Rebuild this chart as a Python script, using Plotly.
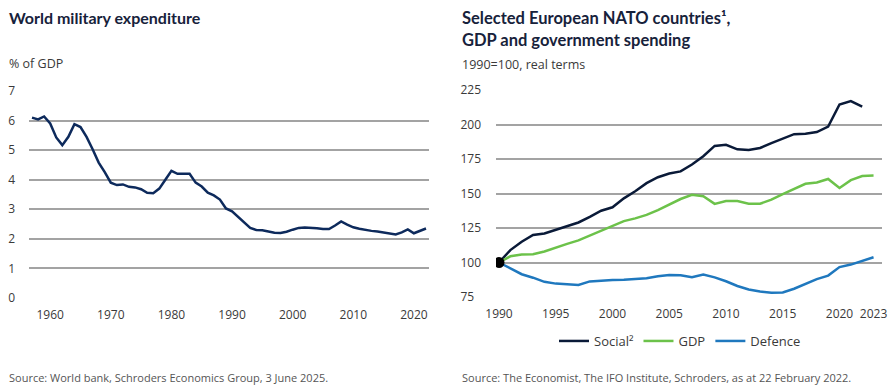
import plotly.graph_objects as go

# ---------------- data ----------------
mil_years = list(range(1957, 2023))
mil_pct = [6.10, 6.04, 6.14, 5.90, 5.43, 5.17, 5.45, 5.88, 5.78, 5.45,
           5.03, 4.58, 4.26, 3.90, 3.82, 3.84, 3.76, 3.74, 3.68, 3.56,
           3.54, 3.70, 4.00, 4.30, 4.20, 4.21, 4.20, 3.90, 3.77, 3.56,
           3.47, 3.33, 3.03, 2.93, 2.75, 2.58, 2.37, 2.30, 2.29, 2.25,
           2.21, 2.20, 2.24, 2.31, 2.37, 2.38, 2.38, 2.36, 2.33, 2.33,
           2.45, 2.59, 2.48, 2.39, 2.34, 2.30, 2.27, 2.25, 2.21, 2.17,
           2.15, 2.22, 2.32, 2.19, 2.26, 2.35]
mil_xticks = [1960, 1970, 1980, 1990, 2000, 2010, 2020]
mil_yticks = [0, 1, 2, 3, 4, 5, 6, 7]

nato_years = list(range(1990, 2024))
social = [100, 109, 115, 120, 121, 123.5, 126, 129, 133, 137.5,
          140, 146.5, 151.6, 157.5, 161.8, 164.5, 166, 171, 177, 184.5,
          185.3, 182, 181.5, 183, 186.5, 189.5, 193, 193.3, 194.5, 198.5,
          214.5, 217, 213]
gdp = [100, 104.5, 105.8, 106, 108, 111, 113.5, 116, 119.5, 123.5,
       127, 130, 132, 134.5, 138, 142, 146, 149, 148, 142.5,
       144.5, 144.5, 142.6, 142.6, 145.5, 149.5, 153.5, 157, 158, 160.5,
       154, 159.7, 162.7, 163]
defence = [100, 96, 91.5, 89, 86, 84.7, 84.3, 83.7, 86.3, 87,
           87.3, 87.5, 88, 88.6, 90, 90.9, 90.7, 89.3, 91.2, 89.2,
           86.4, 83, 80.5, 79, 78.1, 78.3, 81, 84.5, 88, 90.5,
           96.7, 98.5, 101, 103.8]
nato_xticks = [1990, 1995, 2000, 2005, 2010, 2015, 2020, 2023]
nato_yticks = [75, 100, 125, 150, 175, 200, 225]
base_year = [1990]
base_value = [100]

# ---------------- figure ----------------
W, H = 891, 387
def px(x): return x / W
def py(y): return 1 - y / H

NAVY = "#0a1a38"
LINE_L = "#0d2a5c"
GREEN = "#6cc24a"
BLUE = "#1f78be"
GRID = "#a3a3a3"
TXT = "#3a3a3a"
TITLE = "#17223b"

fig = go.Figure()
fig.add_trace(go.Scatter(x=mil_years, y=mil_pct, mode="lines",
                         line=dict(color=LINE_L, width=2.5),
                         xaxis="x", yaxis="y", showlegend=False))
fig.add_trace(go.Scatter(x=nato_years[:len(social)], y=social, mode="lines",
                         name="Social²", line=dict(color=NAVY, width=2.5),
                         xaxis="x2", yaxis="y2"))
fig.add_trace(go.Scatter(x=nato_years, y=gdp, mode="lines", name="GDP",
                         line=dict(color=GREEN, width=2.5),
                         xaxis="x2", yaxis="y2"))
fig.add_trace(go.Scatter(x=nato_years, y=defence, mode="lines", name="Defence",
                         line=dict(color=BLUE, width=2.5),
                         xaxis="x2", yaxis="y2"))
fig.add_trace(go.Scatter(x=base_year, y=base_value, mode="markers",
                         marker=dict(color="black", size=11),
                         xaxis="x2", yaxis="y2", showlegend=False))

tickfont = dict(family="Open Sans", size=12, color=TXT)
fs = "\u2007"

fig.update_layout(
    width=W, height=H,
    margin=dict(l=0, r=0, t=0, b=0, autoexpand=False),
    paper_bgcolor="white", plot_bgcolor="white",
    font=dict(family="Open Sans", color=TXT),
    xaxis=dict(domain=[px(29), px(429)],
               range=[1957 - 3 / 6.06, 2022 + 3 / 6.06],
               tickvals=mil_xticks, showgrid=False, zeroline=False,
               showline=False, ticks="", tickfont=tickfont, automargin=False,
               ticklabelstandoff=8, fixedrange=True),
    yaxis=dict(domain=[py(298), py(91)], range=[0, 7],
               tickvals=mil_yticks, showgrid=True, gridcolor=GRID,
               gridwidth=1.5, zeroline=False, showline=False, ticks="",
               tickfont=tickfont, ticklabelstandoff=13, automargin=False,
               fixedrange=True),
    xaxis2=dict(domain=[px(496), px(882)],
                range=[1990 - 3 / 11.35, 1990 + 383 / 11.35],
                tickvals=nato_xticks, showgrid=False, zeroline=False,
                showline=False, ticks="", tickfont=tickfont, automargin=False,
                ticklabelstandoff=8, anchor="y2", fixedrange=True),
    yaxis2=dict(domain=[py(297), py(90)], range=[75, 225],
                tickvals=nato_yticks,
                ticktext=[(str(v) + fs * (3 - len(str(v)))) for v in nato_yticks],
                showgrid=True, gridcolor=GRID, gridwidth=1.5,
                zeroline=False, showline=False, ticks="", tickfont=tickfont,
                ticklabelstandoff=14, anchor="x2", automargin=False,
                fixedrange=True),
    legend=dict(orientation="h", x=px(680), xanchor="center",
                y=py(341), yanchor="middle",
                font=dict(family="Open Sans", size=13, color=TXT),
                bgcolor="rgba(0,0,0,0)"),
)

def note(x, y, text, size, color, family, bold=False):
    fig.add_annotation(x=px(x), y=py(y), xref="paper", yref="paper",
                       xanchor="left", yanchor="middle", showarrow=False,
                       text=("<b>%s</b>" % text) if bold else text,
                       font=dict(size=size, color=color, family=family),
                       align="left")

note(7, 17, "World military expenditure", 16, TITLE, "Lato", bold=True)
note(7, 63, "% of GDP", 12.5, TXT, "Open Sans")
note(7, 377, "Source: World bank, Schroders Economics Group, 3 June 2025.",
     11, "#555555", "Open Sans")

note(460, 18, "Selected European NATO countries¹,", 16.5, TITLE, "Lato", bold=True)
note(460, 40, "GDP and government spending", 16.5, TITLE, "Lato", bold=True)
note(460, 64, "1990=100, real terms", 12.5, TXT, "Open Sans")
note(460, 377, "Source: The Economist, The IFO Institute, Schroders, as at 22 February 2022.",
     11, "#555555", "Open Sans")

fig.write_html(
    "out.html",
    config={"displayModeBar": False},
    post_script="document.body.style.margin='0px';"
                "document.body.style.overflow='hidden';",
)
